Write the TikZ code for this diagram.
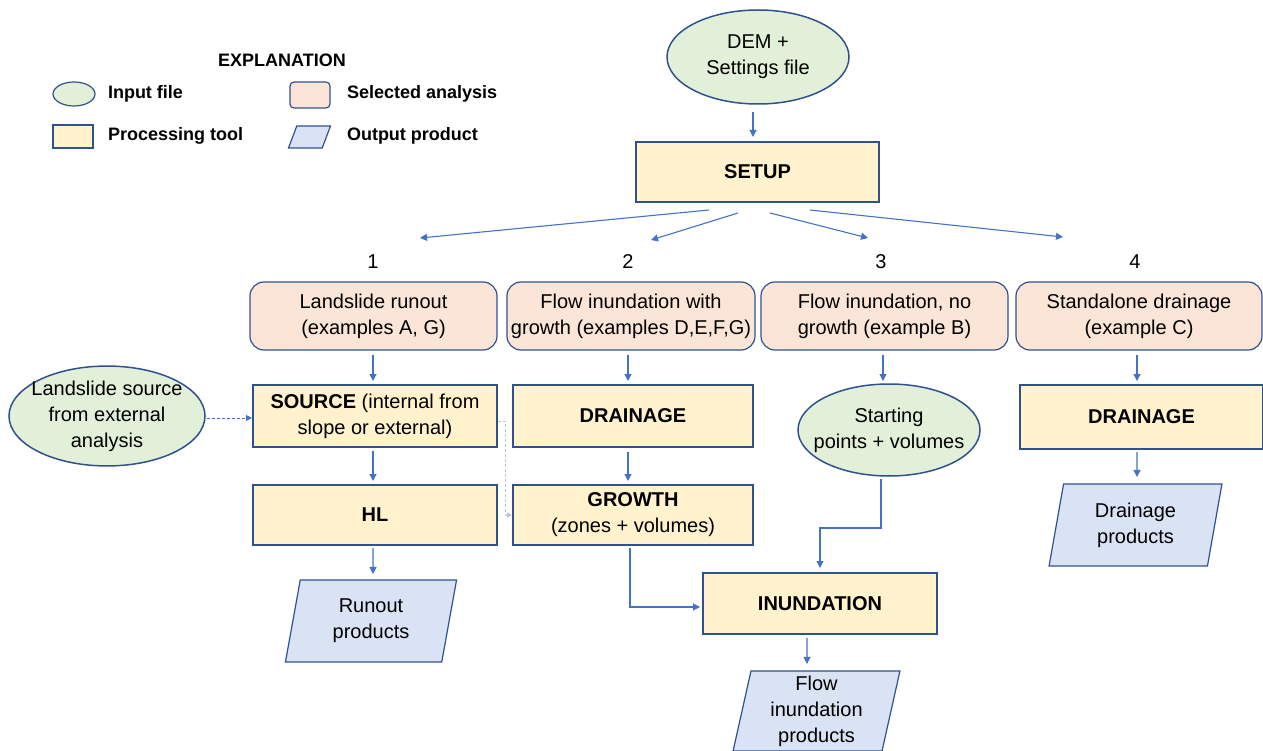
\documentclass[tikz,border=0pt]{standalone}
\usepackage{fontspec}
\setmainfont{Liberation Sans}
\usetikzlibrary{arrows.meta,shapes.geometric,calc}
\definecolor{edge}{HTML}{2F528F}
\definecolor{arr}{HTML}{4472C4}
\definecolor{faint}{HTML}{B4C5E4}
\definecolor{ingreen}{HTML}{E2F0D9}
\definecolor{peach}{HTML}{FBE5D6}
\definecolor{yel}{HTML}{FFF2CC}
\definecolor{outblue}{HTML}{DAE3F3}
\begin{document}
\begin{tikzpicture}[x=1pt,y=-1pt,
  font=\fontsize{20}{26}\selectfont,
  every node/.style={inner sep=0pt, outer sep=0pt},
  inputfile/.style={ellipse, draw=edge, line width=1.5pt, fill=ingreen, align=center},
  analysis/.style={rectangle, rounded corners=14pt, draw=edge, line width=1.2pt, fill=peach, align=center},
  tool/.style={rectangle, draw=edge, line width=1.8pt, fill=yel, align=center},
  product/.style={trapezium, trapezium left angle=80, trapezium right angle=100, trapezium stretches=true, inner sep=2pt, draw=edge, line width=1.2pt, fill=outblue, align=center},
  legtext/.style={anchor=west, font=\fontsize{18}{22}\selectfont\bfseries},
  arrow/.style={draw=arr, line width=1.1pt, -{Triangle[width=7pt,length=7pt]}},
  dotarrow/.style={draw=arr, line width=0.9pt, densely dashed, -{Triangle[width=6pt,length=6pt]}},
  faintarrow/.style={draw=faint, line width=0.8pt, densely dashed, -{Triangle[width=5pt,length=5pt]}}
]
\useasboundingbox (0,0) rectangle (1263,751);

% Legend
\node[font=\fontsize{18}{22}\selectfont\bfseries] (expl) at (282,60) {EXPLANATION};
\node[inputfile, minimum width=42, minimum height=24, line width=1.2pt] (lgin) at (74,94) {};
\node[legtext] (lgintxt) at (108,94) {Input file};
\node[tool, minimum width=40, minimum height=23, line width=1.4pt] (lgtool) at (73,136.5) {};
\node[legtext] (lgtooltxt) at (108,136) {Processing tool};
\node[analysis, minimum width=40, minimum height=26, rounded corners=4pt] (lgsel) at (310,95) {};
\node[legtext] (lgseltxt) at (347,94) {Selected analysis};
\node[product, minimum width=42, minimum height=22, trapezium left angle=72, trapezium right angle=108] (lgout) at (309.5,137) {};
\node[legtext] (lgouttxt) at (347,136) {Output product};

% Top
\node[inputfile, minimum width=182, minimum height=94] (dem) at (758,57) {DEM +\\Settings file};
\node[tool, minimum width=243, minimum height=60] (setup) at (757.5,172) {\textbf{SETUP}};
\draw[arrow] ($(dem.south)+(-5,8)$) -- ($(setup.north)+(-4.5,-5)$);

% numbers
\node (n1) at (373,262) {1};
\node (n2) at (628,262) {2};
\node (n3) at (881,262) {3};
\node (n4) at (1135,262) {4};
\coordinate (f1) at (420,238);
\coordinate (f2) at (651,240);
\coordinate (f3) at (868,238);
\coordinate (f4) at (1063,237);
\draw[arrow] ($(setup.south)+(-48.5,8)$) -- (f1);
\draw[arrow] ($(setup.south)+(-19.5,11)$) -- (f2);
\draw[arrow] ($(setup.south)+(12.5,11)$) -- (f3);
\draw[arrow] ($(setup.south)+(52.5,8)$) -- (f4);

% analyses
\node[analysis, minimum width=247, minimum height=68] (a1) at (373.5,316) {Landslide runout\\(examples A, G)};
\node[analysis, minimum width=248, minimum height=68] (a2) at (631,316) {Flow inundation with\\growth (examples D,E,F,G)};
\node[analysis, minimum width=247, minimum height=68] (a3) at (884.5,316) {Flow inundation, no\\growth (example B)};
\node[analysis, minimum width=246, minimum height=68] (a4) at (1139,316) {Standalone drainage\\(example C)};

% processing row
\node[inputfile, minimum width=196, minimum height=94, inner xsep=-7pt] (lsrc) at (107,416) {Landslide source\\from external\\analysis};
\node[tool, minimum width=244, minimum height=62] (source) at (375,416) {\textbf{SOURCE} (internal from\\slope or external)};
\node[tool, minimum width=240, minimum height=62] (drain2) at (633,416) {\textbf{DRAINAGE}};
\node[inputfile, minimum width=182, minimum height=92, inner xsep=-11pt] (start) at (889,430) {Starting\\points + volumes};
\node[tool, minimum width=243, minimum height=64] (drain4) at (1141.5,417) {\textbf{DRAINAGE}};

\draw[arrow] ($(a1.south)+(-0.5,5)$) -- ($(source.north)+(-2,-4)$);
\draw[arrow] ($(a2.south)+(-3,5)$) -- ($(drain2.north)+(-5,-4)$);
\draw[arrow] ($(a3.south)+(-1.5,5)$) -- ($(start.north)+(-6,-3)$);
\draw[arrow] ($(a4.south)+(-2,5)$) -- ($(drain4.north)+(-4.5,-4)$);
\draw[dotarrow] ($(lsrc.east)+(2,2)$) -- ($(source.west)+(-1,2)$);

\node[tool, minimum width=244, minimum height=60] (hl) at (375,515) {\textbf{HL}};
\node[tool, minimum width=240, minimum height=60] (growth) at (633,515) {\textbf{GROWTH}\\(zones + volumes)};
\draw[arrow] ($(source.south)+(-2,4)$) -- ($(hl.north)+(-2,-4)$);
\draw[arrow] ($(drain2.south)+(-5,5)$) -- ($(growth.north)+(-5,-4)$);
\draw[faintarrow] ($(source.east)+(1,5)$) -| ($(growth.west)+(-8,0)$) -- ($(growth.west)+(-1,0)$);

% outputs
\node[product, minimum width=172, minimum height=82] (runout) at (371,621) {Runout\\products};
\node[product, minimum width=173, minimum height=82] (dprod) at (1135.5,525) {Drainage\\products};
\draw[arrow] ($(hl.south)+(-2,3)$) -- ($(runout.north)+(2,-6)$);
\draw[arrow] ($(drain4.south)+(-4.5,3)$) -- ($(dprod.north)+(1.5,-7)$);

\node[tool, minimum width=234, minimum height=61] (inund) at (820,603.5) {\textbf{INUNDATION}};
\draw[arrow] ($(growth.south)+(-3,3)$) |- ($(inund.west)+(-3,3.5)$);
\draw[arrow] ($(start.south)+(-8,3)$) -- ++(0,49) -| ($(inund.north)+(0,-5)$);

\node[product, minimum width=167, minimum height=80] (fprod) at (816.5,711) {Flow\\inundation\\products};
\draw[arrow] ($(inund.south)+(-13,4)$) -- ($(fprod.north)+(-9.5,-7)$);
\end{tikzpicture}
\end{document}
